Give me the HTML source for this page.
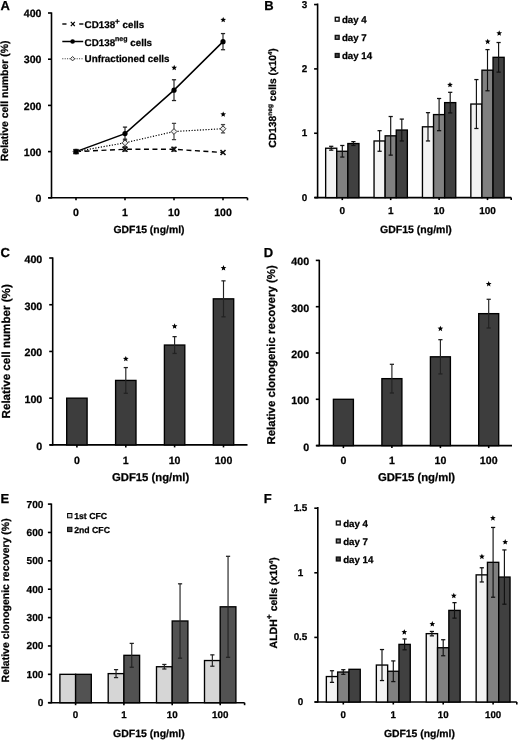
<!DOCTYPE html>
<html><head><meta charset="utf-8"><style>
html,body{margin:0;padding:0;background:#fff;}
svg{display:block;font-family:"Liberation Sans", sans-serif;filter:grayscale(1);}
text{text-rendering:geometricPrecision;stroke:#000;stroke-width:0.25px;}
</style></head><body>
<svg width="520" height="741" viewBox="0 0 520 741">
<rect width="520" height="741" fill="#fff"/>
<text x="0.60" y="10.20" font-size="13" text-anchor="start" font-weight="bold" fill="#000">A</text>
<line x1="51.50" y1="12.40" x2="51.50" y2="198.40" stroke="#000" stroke-width="1.6" stroke-linecap="butt"/>
<line x1="48.00" y1="197.80" x2="51.50" y2="197.80" stroke="#000" stroke-width="1.6" stroke-linecap="butt"/>
<text x="41.50" y="202.00" font-size="10.6" text-anchor="end" font-weight="bold" fill="#000">0</text>
<line x1="48.00" y1="151.60" x2="51.50" y2="151.60" stroke="#000" stroke-width="1.6" stroke-linecap="butt"/>
<text x="41.50" y="155.80" font-size="10.6" text-anchor="end" font-weight="bold" fill="#000">100</text>
<line x1="48.00" y1="105.40" x2="51.50" y2="105.40" stroke="#000" stroke-width="1.6" stroke-linecap="butt"/>
<text x="41.50" y="109.60" font-size="10.6" text-anchor="end" font-weight="bold" fill="#000">200</text>
<line x1="48.00" y1="59.20" x2="51.50" y2="59.20" stroke="#000" stroke-width="1.6" stroke-linecap="butt"/>
<text x="41.50" y="63.40" font-size="10.6" text-anchor="end" font-weight="bold" fill="#000">300</text>
<line x1="48.00" y1="13.00" x2="51.50" y2="13.00" stroke="#000" stroke-width="1.6" stroke-linecap="butt"/>
<text x="41.50" y="17.20" font-size="10.6" text-anchor="end" font-weight="bold" fill="#000">400</text>
<line x1="48.50" y1="197.80" x2="247.50" y2="197.80" stroke="#000" stroke-width="1.6" stroke-linecap="butt"/>
<line x1="76.00" y1="197.80" x2="76.00" y2="200.30" stroke="#000" stroke-width="1.6" stroke-linecap="butt"/>
<text x="76.00" y="216.40" font-size="10.6" text-anchor="middle" font-weight="bold" fill="#000">0</text>
<line x1="125.00" y1="197.80" x2="125.00" y2="200.30" stroke="#000" stroke-width="1.6" stroke-linecap="butt"/>
<text x="125.00" y="216.40" font-size="10.6" text-anchor="middle" font-weight="bold" fill="#000">1</text>
<line x1="174.00" y1="197.80" x2="174.00" y2="200.30" stroke="#000" stroke-width="1.6" stroke-linecap="butt"/>
<text x="174.00" y="216.40" font-size="10.6" text-anchor="middle" font-weight="bold" fill="#000">10</text>
<line x1="223.00" y1="197.80" x2="223.00" y2="200.30" stroke="#000" stroke-width="1.6" stroke-linecap="butt"/>
<text x="223.00" y="216.40" font-size="10.6" text-anchor="middle" font-weight="bold" fill="#000">100</text>
<line x1="247.50" y1="197.80" x2="247.50" y2="200.30" stroke="#000" stroke-width="1.6" stroke-linecap="butt"/>
<text x="149.00" y="233.20" font-size="10.4" text-anchor="middle" font-weight="bold" fill="#000">GDF15 (ng/ml)</text>
<text transform="translate(8.40,100.85) rotate(-90)" font-size="10.44" text-anchor="middle" font-weight="bold" fill="#000">Relative cell number (%)</text>
<line x1="125.00" y1="139.13" x2="125.00" y2="146.52" stroke="#444" stroke-width="1.15" stroke-linecap="butt"/>
<line x1="122.90" y1="139.13" x2="127.10" y2="139.13" stroke="#444" stroke-width="1.265" stroke-linecap="butt"/>
<line x1="122.90" y1="146.52" x2="127.10" y2="146.52" stroke="#444" stroke-width="1.265" stroke-linecap="butt"/>
<line x1="125.00" y1="147.44" x2="125.00" y2="151.14" stroke="#444" stroke-width="1.15" stroke-linecap="butt"/>
<line x1="122.90" y1="147.44" x2="127.10" y2="147.44" stroke="#444" stroke-width="1.265" stroke-linecap="butt"/>
<line x1="122.90" y1="151.14" x2="127.10" y2="151.14" stroke="#444" stroke-width="1.265" stroke-linecap="butt"/>
<line x1="125.00" y1="127.11" x2="125.00" y2="140.05" stroke="#222" stroke-width="1.15" stroke-linecap="butt"/>
<line x1="122.90" y1="127.11" x2="127.10" y2="127.11" stroke="#222" stroke-width="1.265" stroke-linecap="butt"/>
<line x1="122.90" y1="140.05" x2="127.10" y2="140.05" stroke="#222" stroke-width="1.265" stroke-linecap="butt"/>
<line x1="174.00" y1="123.37" x2="174.00" y2="139.63" stroke="#444" stroke-width="1.15" stroke-linecap="butt"/>
<line x1="171.90" y1="123.37" x2="176.10" y2="123.37" stroke="#444" stroke-width="1.265" stroke-linecap="butt"/>
<line x1="171.90" y1="139.63" x2="176.10" y2="139.63" stroke="#444" stroke-width="1.265" stroke-linecap="butt"/>
<line x1="174.00" y1="147.44" x2="174.00" y2="151.14" stroke="#444" stroke-width="1.15" stroke-linecap="butt"/>
<line x1="171.90" y1="147.44" x2="176.10" y2="147.44" stroke="#444" stroke-width="1.265" stroke-linecap="butt"/>
<line x1="171.90" y1="151.14" x2="176.10" y2="151.14" stroke="#444" stroke-width="1.265" stroke-linecap="butt"/>
<line x1="174.00" y1="79.76" x2="174.00" y2="100.55" stroke="#222" stroke-width="1.15" stroke-linecap="butt"/>
<line x1="171.90" y1="79.76" x2="176.10" y2="79.76" stroke="#222" stroke-width="1.265" stroke-linecap="butt"/>
<line x1="171.90" y1="100.55" x2="176.10" y2="100.55" stroke="#222" stroke-width="1.265" stroke-linecap="butt"/>
<line x1="223.00" y1="124.57" x2="223.00" y2="132.89" stroke="#444" stroke-width="1.15" stroke-linecap="butt"/>
<line x1="220.90" y1="124.57" x2="225.10" y2="124.57" stroke="#444" stroke-width="1.265" stroke-linecap="butt"/>
<line x1="220.90" y1="132.89" x2="225.10" y2="132.89" stroke="#444" stroke-width="1.265" stroke-linecap="butt"/>
<line x1="223.00" y1="33.56" x2="223.00" y2="49.73" stroke="#222" stroke-width="1.15" stroke-linecap="butt"/>
<line x1="220.90" y1="33.56" x2="225.10" y2="33.56" stroke="#222" stroke-width="1.265" stroke-linecap="butt"/>
<line x1="220.90" y1="49.73" x2="225.10" y2="49.73" stroke="#222" stroke-width="1.265" stroke-linecap="butt"/>
<polyline points="76.00,151.60 125.00,149.29 174.00,149.29 223.00,152.52" fill="none" stroke="#000" stroke-width="1.4" stroke-dasharray="5,3.5"/>
<polyline points="76.00,151.60 125.00,142.82 174.00,131.50 223.00,128.73" fill="none" stroke="#000" stroke-width="1.2" stroke-dasharray="1.2,1.6"/>
<polyline points="76.00,151.60 125.00,133.58 174.00,90.15 223.00,41.64" fill="none" stroke="#000" stroke-width="1.5"/>
<line x1="73.50" y1="149.10" x2="78.50" y2="154.10" stroke="#111" stroke-width="1.6" stroke-linecap="butt"/>
<line x1="73.50" y1="154.10" x2="78.50" y2="149.10" stroke="#111" stroke-width="1.6" stroke-linecap="butt"/>
<path d="M73.10,151.60 L76.00,148.70 L78.90,151.60 L76.00,154.50 Z" fill="#eee" stroke="#333" stroke-width="1"/>
<circle cx="76.00" cy="151.60" r="2.6" fill="#000"/>
<line x1="122.50" y1="146.79" x2="127.50" y2="151.79" stroke="#111" stroke-width="1.6" stroke-linecap="butt"/>
<line x1="122.50" y1="151.79" x2="127.50" y2="146.79" stroke="#111" stroke-width="1.6" stroke-linecap="butt"/>
<path d="M122.10,142.82 L125.00,139.92 L127.90,142.82 L125.00,145.72 Z" fill="#eee" stroke="#333" stroke-width="1"/>
<circle cx="125.00" cy="133.58" r="2.6" fill="#000"/>
<line x1="171.50" y1="146.79" x2="176.50" y2="151.79" stroke="#111" stroke-width="1.6" stroke-linecap="butt"/>
<line x1="171.50" y1="151.79" x2="176.50" y2="146.79" stroke="#111" stroke-width="1.6" stroke-linecap="butt"/>
<path d="M171.10,131.50 L174.00,128.60 L176.90,131.50 L174.00,134.40 Z" fill="#eee" stroke="#333" stroke-width="1"/>
<circle cx="174.00" cy="90.15" r="2.6" fill="#000"/>
<line x1="220.50" y1="150.02" x2="225.50" y2="155.02" stroke="#111" stroke-width="1.6" stroke-linecap="butt"/>
<line x1="220.50" y1="155.02" x2="225.50" y2="150.02" stroke="#111" stroke-width="1.6" stroke-linecap="butt"/>
<path d="M220.10,128.73 L223.00,125.83 L225.90,128.73 L223.00,131.63 Z" fill="#eee" stroke="#333" stroke-width="1"/>
<circle cx="223.00" cy="41.64" r="2.6" fill="#000"/>
<polygon points="174.20,64.80 174.99,66.71 177.05,66.87 175.48,68.22 175.96,70.23 174.20,69.15 172.44,70.23 172.92,68.22 171.35,66.87 173.41,66.71" fill="#000"/>
<polygon points="223.20,16.90 223.99,18.81 226.05,18.97 224.48,20.32 224.96,22.33 223.20,21.25 221.44,22.33 221.92,20.32 220.35,18.97 222.41,18.81" fill="#000"/>
<polygon points="223.20,111.40 223.99,113.31 226.05,113.47 224.48,114.82 224.96,116.83 223.20,115.75 221.44,116.83 221.92,114.82 220.35,113.47 222.41,113.31" fill="#000"/>
<line x1="62.30" y1="24.00" x2="66.50" y2="24.00" stroke="#000" stroke-width="1.4" stroke-linecap="butt"/>
<line x1="79.20" y1="24.00" x2="83.40" y2="24.00" stroke="#000" stroke-width="1.4" stroke-linecap="butt"/>
<line x1="70.80" y1="21.80" x2="74.80" y2="26.20" stroke="#000" stroke-width="1.2" stroke-linecap="butt"/>
<line x1="70.80" y1="26.20" x2="74.80" y2="21.80" stroke="#000" stroke-width="1.2" stroke-linecap="butt"/>
<text x="84.60" y="27.50" font-size="9.8" text-anchor="start" font-weight="bold" fill="#000">CD138<tspan font-size="8" dy="-3.6">+</tspan><tspan dy="3.6"> cells</tspan></text>
<line x1="62.30" y1="41.50" x2="83.20" y2="41.50" stroke="#000" stroke-width="1.5" stroke-linecap="butt"/>
<circle cx="72.6" cy="41.5" r="2.3" fill="#000"/>
<text x="84.60" y="45.50" font-size="9.8" text-anchor="start" font-weight="bold" fill="#000">CD138<tspan font-size="7" dy="-4.5">neg</tspan><tspan dy="4.5"> cells</tspan></text>
<line x1="62.30" y1="58.70" x2="83.20" y2="58.70" stroke="#333" stroke-width="1.1" stroke-dasharray="1,1.4" stroke-linecap="butt"/>
<path d="M70.4,58.7 L72.6,56.5 L74.8,58.7 L72.6,60.9 Z" fill="#eee" stroke="#333" stroke-width="1"/>
<text x="84.60" y="62.20" font-size="9.8" text-anchor="start" font-weight="bold" fill="#000">Unfractioned cells</text>
<text x="264.20" y="10.30" font-size="13" text-anchor="start" font-weight="bold" fill="#000">B</text>
<line x1="317.60" y1="3.50" x2="317.60" y2="198.20" stroke="#000" stroke-width="1.6" stroke-linecap="butt"/>
<line x1="314.10" y1="197.60" x2="317.60" y2="197.60" stroke="#000" stroke-width="1.6" stroke-linecap="butt"/>
<text x="307.30" y="200.80" font-size="9.9" text-anchor="end" font-weight="bold" fill="#000">0</text>
<line x1="314.10" y1="133.25" x2="317.60" y2="133.25" stroke="#000" stroke-width="1.6" stroke-linecap="butt"/>
<text x="307.30" y="136.45" font-size="9.9" text-anchor="end" font-weight="bold" fill="#000">1</text>
<line x1="314.10" y1="68.90" x2="317.60" y2="68.90" stroke="#000" stroke-width="1.6" stroke-linecap="butt"/>
<text x="307.30" y="72.10" font-size="9.9" text-anchor="end" font-weight="bold" fill="#000">2</text>
<line x1="314.10" y1="4.55" x2="317.60" y2="4.55" stroke="#000" stroke-width="1.6" stroke-linecap="butt"/>
<text x="307.30" y="7.75" font-size="9.9" text-anchor="end" font-weight="bold" fill="#000">3</text>
<line x1="314.60" y1="197.60" x2="511.20" y2="197.60" stroke="#000" stroke-width="1.6" stroke-linecap="butt"/>
<line x1="342.30" y1="197.60" x2="342.30" y2="200.10" stroke="#000" stroke-width="1.6" stroke-linecap="butt"/>
<text x="342.30" y="213.80" font-size="10.0" text-anchor="middle" font-weight="bold" fill="#000">0</text>
<line x1="390.70" y1="197.60" x2="390.70" y2="200.10" stroke="#000" stroke-width="1.6" stroke-linecap="butt"/>
<text x="390.70" y="213.80" font-size="10.0" text-anchor="middle" font-weight="bold" fill="#000">1</text>
<line x1="439.10" y1="197.60" x2="439.10" y2="200.10" stroke="#000" stroke-width="1.6" stroke-linecap="butt"/>
<text x="439.10" y="213.80" font-size="10.0" text-anchor="middle" font-weight="bold" fill="#000">10</text>
<line x1="487.50" y1="197.60" x2="487.50" y2="200.10" stroke="#000" stroke-width="1.6" stroke-linecap="butt"/>
<text x="487.50" y="213.80" font-size="10.0" text-anchor="middle" font-weight="bold" fill="#000">100</text>
<line x1="511.20" y1="197.60" x2="511.20" y2="200.10" stroke="#000" stroke-width="1.6" stroke-linecap="butt"/>
<text x="416.00" y="233.20" font-size="10.5" text-anchor="middle" font-weight="bold" fill="#000">GDF15 (ng/ml)</text>
<text transform="translate(275.60,98.00) rotate(-90)" font-size="10.3" text-anchor="middle" font-weight="bold" fill="#000">CD138<tspan font-size="6.5" dy="-3.5">neg</tspan><tspan dy="3.5"> cells (x10</tspan><tspan font-size="5.8" dy="-3.8">4</tspan><tspan dy="3.8">)</tspan></text>
<rect x="325.65" y="148.24" width="11.10" height="49.36" fill="#f3f3f3" stroke="#000" stroke-width="1.35"/>
<rect x="336.75" y="151.27" width="11.10" height="46.33" fill="#808080" stroke="#000" stroke-width="1.35"/>
<rect x="347.85" y="143.55" width="11.10" height="54.05" fill="#404040" stroke="#000" stroke-width="1.35"/>
<line x1="331.20" y1="146.31" x2="331.20" y2="150.17" stroke="#111" stroke-width="1.15" stroke-linecap="butt"/>
<line x1="329.10" y1="146.31" x2="333.30" y2="146.31" stroke="#111" stroke-width="1.265" stroke-linecap="butt"/>
<line x1="329.10" y1="150.17" x2="333.30" y2="150.17" stroke="#111" stroke-width="1.265" stroke-linecap="butt"/>
<line x1="342.30" y1="145.48" x2="342.30" y2="157.06" stroke="#111" stroke-width="1.15" stroke-linecap="butt"/>
<line x1="340.20" y1="145.48" x2="344.40" y2="145.48" stroke="#111" stroke-width="1.265" stroke-linecap="butt"/>
<line x1="340.20" y1="157.06" x2="344.40" y2="157.06" stroke="#111" stroke-width="1.265" stroke-linecap="butt"/>
<line x1="353.40" y1="141.62" x2="353.40" y2="145.48" stroke="#111" stroke-width="1.15" stroke-linecap="butt"/>
<line x1="351.30" y1="141.62" x2="355.50" y2="141.62" stroke="#111" stroke-width="1.265" stroke-linecap="butt"/>
<line x1="351.30" y1="145.48" x2="355.50" y2="145.48" stroke="#111" stroke-width="1.265" stroke-linecap="butt"/>
<rect x="374.05" y="140.97" width="11.10" height="56.63" fill="#f3f3f3" stroke="#000" stroke-width="1.35"/>
<rect x="385.15" y="135.82" width="11.10" height="61.78" fill="#808080" stroke="#000" stroke-width="1.35"/>
<rect x="396.25" y="130.03" width="11.10" height="67.57" fill="#404040" stroke="#000" stroke-width="1.35"/>
<line x1="379.60" y1="130.68" x2="379.60" y2="151.27" stroke="#111" stroke-width="1.15" stroke-linecap="butt"/>
<line x1="377.50" y1="130.68" x2="381.70" y2="130.68" stroke="#111" stroke-width="1.265" stroke-linecap="butt"/>
<line x1="377.50" y1="151.27" x2="381.70" y2="151.27" stroke="#111" stroke-width="1.265" stroke-linecap="butt"/>
<line x1="390.70" y1="116.52" x2="390.70" y2="155.13" stroke="#111" stroke-width="1.15" stroke-linecap="butt"/>
<line x1="388.60" y1="116.52" x2="392.80" y2="116.52" stroke="#111" stroke-width="1.265" stroke-linecap="butt"/>
<line x1="388.60" y1="155.13" x2="392.80" y2="155.13" stroke="#111" stroke-width="1.265" stroke-linecap="butt"/>
<line x1="401.80" y1="119.09" x2="401.80" y2="140.97" stroke="#111" stroke-width="1.15" stroke-linecap="butt"/>
<line x1="399.70" y1="119.09" x2="403.90" y2="119.09" stroke="#111" stroke-width="1.265" stroke-linecap="butt"/>
<line x1="399.70" y1="140.97" x2="403.90" y2="140.97" stroke="#111" stroke-width="1.265" stroke-linecap="butt"/>
<rect x="422.45" y="126.81" width="11.10" height="70.78" fill="#f3f3f3" stroke="#000" stroke-width="1.35"/>
<rect x="433.55" y="114.59" width="11.10" height="83.01" fill="#808080" stroke="#000" stroke-width="1.35"/>
<rect x="444.65" y="102.62" width="11.10" height="94.98" fill="#404040" stroke="#000" stroke-width="1.35"/>
<line x1="428.00" y1="112.66" x2="428.00" y2="140.97" stroke="#111" stroke-width="1.15" stroke-linecap="butt"/>
<line x1="425.90" y1="112.66" x2="430.10" y2="112.66" stroke="#111" stroke-width="1.265" stroke-linecap="butt"/>
<line x1="425.90" y1="140.97" x2="430.10" y2="140.97" stroke="#111" stroke-width="1.265" stroke-linecap="butt"/>
<line x1="439.10" y1="98.50" x2="439.10" y2="130.68" stroke="#111" stroke-width="1.15" stroke-linecap="butt"/>
<line x1="437.00" y1="98.50" x2="441.20" y2="98.50" stroke="#111" stroke-width="1.265" stroke-linecap="butt"/>
<line x1="437.00" y1="130.68" x2="441.20" y2="130.68" stroke="#111" stroke-width="1.265" stroke-linecap="butt"/>
<line x1="450.20" y1="92.32" x2="450.20" y2="112.92" stroke="#111" stroke-width="1.15" stroke-linecap="butt"/>
<line x1="448.10" y1="92.32" x2="452.30" y2="92.32" stroke="#111" stroke-width="1.265" stroke-linecap="butt"/>
<line x1="448.10" y1="112.92" x2="452.30" y2="112.92" stroke="#111" stroke-width="1.265" stroke-linecap="butt"/>
<rect x="470.85" y="104.04" width="11.10" height="93.56" fill="#f3f3f3" stroke="#000" stroke-width="1.35"/>
<rect x="481.95" y="70.19" width="11.10" height="127.41" fill="#808080" stroke="#000" stroke-width="1.35"/>
<rect x="493.05" y="57.32" width="11.10" height="140.28" fill="#404040" stroke="#000" stroke-width="1.35"/>
<line x1="476.40" y1="79.58" x2="476.40" y2="128.49" stroke="#111" stroke-width="1.15" stroke-linecap="butt"/>
<line x1="474.30" y1="79.58" x2="478.50" y2="79.58" stroke="#111" stroke-width="1.265" stroke-linecap="butt"/>
<line x1="474.30" y1="128.49" x2="478.50" y2="128.49" stroke="#111" stroke-width="1.265" stroke-linecap="butt"/>
<line x1="487.50" y1="49.60" x2="487.50" y2="90.78" stroke="#111" stroke-width="1.15" stroke-linecap="butt"/>
<line x1="485.40" y1="49.60" x2="489.60" y2="49.60" stroke="#111" stroke-width="1.265" stroke-linecap="butt"/>
<line x1="485.40" y1="90.78" x2="489.60" y2="90.78" stroke="#111" stroke-width="1.265" stroke-linecap="butt"/>
<line x1="498.60" y1="42.52" x2="498.60" y2="72.12" stroke="#111" stroke-width="1.15" stroke-linecap="butt"/>
<line x1="496.50" y1="42.52" x2="500.70" y2="42.52" stroke="#111" stroke-width="1.265" stroke-linecap="butt"/>
<line x1="496.50" y1="72.12" x2="500.70" y2="72.12" stroke="#111" stroke-width="1.265" stroke-linecap="butt"/>
<polygon points="450.00,81.90 450.79,83.81 452.85,83.97 451.28,85.32 451.76,87.33 450.00,86.25 448.24,87.33 448.72,85.32 447.15,83.97 449.21,83.81" fill="#000"/>
<polygon points="487.70,38.70 488.49,40.61 490.55,40.77 488.98,42.12 489.46,44.13 487.70,43.05 485.94,44.13 486.42,42.12 484.85,40.77 486.91,40.61" fill="#000"/>
<polygon points="499.20,30.30 499.99,32.21 502.05,32.37 500.48,33.72 500.96,35.73 499.20,34.65 497.44,35.73 497.92,33.72 496.35,32.37 498.41,32.21" fill="#000"/>
<rect x="335.30" y="17.35" width="3.80" height="3.80" fill="#f3f3f3" stroke="#111" stroke-width="1.4"/>
<text x="341.90" y="23.00" font-size="9.7" text-anchor="start" font-weight="bold" fill="#000">day 4</text>
<rect x="335.30" y="35.45" width="3.80" height="3.80" fill="#808080" stroke="#111" stroke-width="1.4"/>
<text x="341.90" y="41.10" font-size="9.7" text-anchor="start" font-weight="bold" fill="#000">day 7</text>
<rect x="335.30" y="53.55" width="3.80" height="3.80" fill="#404040" stroke="#111" stroke-width="1.4"/>
<text x="341.90" y="59.20" font-size="9.7" text-anchor="start" font-weight="bold" fill="#000">day 14</text>
<text x="0.40" y="257.30" font-size="13" text-anchor="start" font-weight="bold" fill="#000">C</text>
<line x1="52.70" y1="257.40" x2="52.70" y2="445.50" stroke="#000" stroke-width="1.6" stroke-linecap="butt"/>
<line x1="49.20" y1="444.90" x2="52.70" y2="444.90" stroke="#000" stroke-width="1.6" stroke-linecap="butt"/>
<text x="42.30" y="449.90" font-size="10.7" text-anchor="end" font-weight="bold" fill="#000">0</text>
<line x1="49.20" y1="398.17" x2="52.70" y2="398.17" stroke="#000" stroke-width="1.6" stroke-linecap="butt"/>
<text x="42.30" y="403.17" font-size="10.7" text-anchor="end" font-weight="bold" fill="#000">100</text>
<line x1="49.20" y1="351.45" x2="52.70" y2="351.45" stroke="#000" stroke-width="1.6" stroke-linecap="butt"/>
<text x="42.30" y="356.45" font-size="10.7" text-anchor="end" font-weight="bold" fill="#000">200</text>
<line x1="49.20" y1="304.73" x2="52.70" y2="304.73" stroke="#000" stroke-width="1.6" stroke-linecap="butt"/>
<text x="42.30" y="309.73" font-size="10.7" text-anchor="end" font-weight="bold" fill="#000">300</text>
<line x1="49.20" y1="258.00" x2="52.70" y2="258.00" stroke="#000" stroke-width="1.6" stroke-linecap="butt"/>
<text x="42.30" y="263.00" font-size="10.7" text-anchor="end" font-weight="bold" fill="#000">400</text>
<line x1="49.70" y1="444.90" x2="247.50" y2="444.90" stroke="#000" stroke-width="1.6" stroke-linecap="butt"/>
<line x1="76.90" y1="444.90" x2="76.90" y2="447.40" stroke="#000" stroke-width="1.6" stroke-linecap="butt"/>
<text x="76.90" y="463.80" font-size="10.6" text-anchor="middle" font-weight="bold" fill="#000">0</text>
<line x1="125.80" y1="444.90" x2="125.80" y2="447.40" stroke="#000" stroke-width="1.6" stroke-linecap="butt"/>
<text x="125.80" y="463.80" font-size="10.6" text-anchor="middle" font-weight="bold" fill="#000">1</text>
<line x1="174.60" y1="444.90" x2="174.60" y2="447.40" stroke="#000" stroke-width="1.6" stroke-linecap="butt"/>
<text x="174.60" y="463.80" font-size="10.6" text-anchor="middle" font-weight="bold" fill="#000">10</text>
<line x1="223.50" y1="444.90" x2="223.50" y2="447.40" stroke="#000" stroke-width="1.6" stroke-linecap="butt"/>
<text x="223.50" y="463.80" font-size="10.6" text-anchor="middle" font-weight="bold" fill="#000">100</text>
<text x="150.60" y="480.80" font-size="11.3" text-anchor="middle" font-weight="bold" fill="#000">GDF15 (ng/ml)</text>
<text transform="translate(10.00,351.35) rotate(-90)" font-size="11.62" text-anchor="middle" font-weight="bold" fill="#000">Relative cell number (%)</text>
<rect x="66.70" y="398.17" width="20.40" height="46.73" fill="#3d3d3d" stroke="#000" stroke-width="1.35"/>
<rect x="115.60" y="380.42" width="20.40" height="64.48" fill="#3d3d3d" stroke="#000" stroke-width="1.35"/>
<line x1="125.80" y1="367.57" x2="125.80" y2="393.27" stroke="#222" stroke-width="1.15" stroke-linecap="butt"/>
<line x1="123.70" y1="367.57" x2="127.90" y2="367.57" stroke="#222" stroke-width="1.265" stroke-linecap="butt"/>
<line x1="123.70" y1="393.27" x2="127.90" y2="393.27" stroke="#222" stroke-width="1.265" stroke-linecap="butt"/>
<rect x="164.40" y="345.05" width="20.40" height="99.85" fill="#3d3d3d" stroke="#000" stroke-width="1.35"/>
<line x1="174.60" y1="336.64" x2="174.60" y2="353.46" stroke="#222" stroke-width="1.15" stroke-linecap="butt"/>
<line x1="172.50" y1="336.64" x2="176.70" y2="336.64" stroke="#222" stroke-width="1.265" stroke-linecap="butt"/>
<line x1="172.50" y1="353.46" x2="176.70" y2="353.46" stroke="#222" stroke-width="1.265" stroke-linecap="butt"/>
<rect x="213.30" y="298.84" width="20.40" height="146.06" fill="#3d3d3d" stroke="#000" stroke-width="1.35"/>
<line x1="223.50" y1="280.85" x2="223.50" y2="316.83" stroke="#222" stroke-width="1.15" stroke-linecap="butt"/>
<line x1="221.40" y1="280.85" x2="225.60" y2="280.85" stroke="#222" stroke-width="1.265" stroke-linecap="butt"/>
<line x1="221.40" y1="316.83" x2="225.60" y2="316.83" stroke="#222" stroke-width="1.265" stroke-linecap="butt"/>
<polygon points="125.80,355.90 126.59,357.81 128.65,357.97 127.08,359.32 127.56,361.33 125.80,360.25 124.04,361.33 124.52,359.32 122.95,357.97 125.01,357.81" fill="#000"/>
<polygon points="174.60,323.30 175.39,325.21 177.45,325.37 175.88,326.72 176.36,328.73 174.60,327.65 172.84,328.73 173.32,326.72 171.75,325.37 173.81,325.21" fill="#000"/>
<polygon points="223.50,265.10 224.29,267.01 226.35,267.17 224.78,268.52 225.26,270.53 223.50,269.45 221.74,270.53 222.22,268.52 220.65,267.17 222.71,267.01" fill="#000"/>
<text x="263.80" y="257.30" font-size="13" text-anchor="start" font-weight="bold" fill="#000">D</text>
<line x1="319.30" y1="259.80" x2="319.30" y2="446.20" stroke="#000" stroke-width="1.6" stroke-linecap="butt"/>
<line x1="315.80" y1="445.60" x2="319.30" y2="445.60" stroke="#000" stroke-width="1.6" stroke-linecap="butt"/>
<text x="309.20" y="450.60" font-size="10.7" text-anchor="end" font-weight="bold" fill="#000">0</text>
<line x1="315.80" y1="399.30" x2="319.30" y2="399.30" stroke="#000" stroke-width="1.6" stroke-linecap="butt"/>
<text x="309.20" y="404.30" font-size="10.7" text-anchor="end" font-weight="bold" fill="#000">100</text>
<line x1="315.80" y1="353.00" x2="319.30" y2="353.00" stroke="#000" stroke-width="1.6" stroke-linecap="butt"/>
<text x="309.20" y="358.00" font-size="10.7" text-anchor="end" font-weight="bold" fill="#000">200</text>
<line x1="315.80" y1="306.70" x2="319.30" y2="306.70" stroke="#000" stroke-width="1.6" stroke-linecap="butt"/>
<text x="309.20" y="311.70" font-size="10.7" text-anchor="end" font-weight="bold" fill="#000">300</text>
<line x1="315.80" y1="260.40" x2="319.30" y2="260.40" stroke="#000" stroke-width="1.6" stroke-linecap="butt"/>
<text x="309.20" y="265.40" font-size="10.7" text-anchor="end" font-weight="bold" fill="#000">400</text>
<line x1="316.30" y1="445.60" x2="512.00" y2="445.60" stroke="#000" stroke-width="1.6" stroke-linecap="butt"/>
<line x1="343.40" y1="445.60" x2="343.40" y2="448.10" stroke="#000" stroke-width="1.6" stroke-linecap="butt"/>
<text x="343.40" y="464.40" font-size="10.6" text-anchor="middle" font-weight="bold" fill="#000">0</text>
<line x1="391.90" y1="445.60" x2="391.90" y2="448.10" stroke="#000" stroke-width="1.6" stroke-linecap="butt"/>
<text x="391.90" y="464.40" font-size="10.6" text-anchor="middle" font-weight="bold" fill="#000">1</text>
<line x1="440.40" y1="445.60" x2="440.40" y2="448.10" stroke="#000" stroke-width="1.6" stroke-linecap="butt"/>
<text x="440.40" y="464.40" font-size="10.6" text-anchor="middle" font-weight="bold" fill="#000">10</text>
<line x1="488.70" y1="445.60" x2="488.70" y2="448.10" stroke="#000" stroke-width="1.6" stroke-linecap="butt"/>
<text x="488.70" y="464.40" font-size="10.6" text-anchor="middle" font-weight="bold" fill="#000">100</text>
<text x="416.50" y="481.20" font-size="11.3" text-anchor="middle" font-weight="bold" fill="#000">GDF15 (ng/ml)</text>
<text transform="translate(274.90,354.90) rotate(-90)" font-size="11.45" text-anchor="middle" font-weight="bold" fill="#000">Relative clonogenic recovery (%)</text>
<rect x="333.40" y="399.30" width="20.00" height="46.30" fill="#3d3d3d" stroke="#000" stroke-width="1.35"/>
<rect x="381.90" y="378.65" width="20.00" height="66.95" fill="#3d3d3d" stroke="#000" stroke-width="1.35"/>
<line x1="391.90" y1="364.30" x2="391.90" y2="393.00" stroke="#222" stroke-width="1.15" stroke-linecap="butt"/>
<line x1="389.80" y1="364.30" x2="394.00" y2="364.30" stroke="#222" stroke-width="1.265" stroke-linecap="butt"/>
<line x1="389.80" y1="393.00" x2="394.00" y2="393.00" stroke="#222" stroke-width="1.265" stroke-linecap="butt"/>
<rect x="430.40" y="356.80" width="20.00" height="88.80" fill="#3d3d3d" stroke="#000" stroke-width="1.35"/>
<line x1="440.40" y1="339.67" x2="440.40" y2="373.93" stroke="#222" stroke-width="1.15" stroke-linecap="butt"/>
<line x1="438.30" y1="339.67" x2="442.50" y2="339.67" stroke="#222" stroke-width="1.265" stroke-linecap="butt"/>
<line x1="438.30" y1="373.93" x2="442.50" y2="373.93" stroke="#222" stroke-width="1.265" stroke-linecap="butt"/>
<rect x="478.70" y="313.64" width="20.00" height="131.96" fill="#3d3d3d" stroke="#000" stroke-width="1.35"/>
<line x1="488.70" y1="299.29" x2="488.70" y2="328.00" stroke="#222" stroke-width="1.15" stroke-linecap="butt"/>
<line x1="486.60" y1="299.29" x2="490.80" y2="299.29" stroke="#222" stroke-width="1.265" stroke-linecap="butt"/>
<line x1="486.60" y1="328.00" x2="490.80" y2="328.00" stroke="#222" stroke-width="1.265" stroke-linecap="butt"/>
<polygon points="440.40,325.70 441.19,327.61 443.25,327.77 441.68,329.12 442.16,331.13 440.40,330.05 438.64,331.13 439.12,329.12 437.55,327.77 439.61,327.61" fill="#000"/>
<polygon points="488.70,281.00 489.49,282.91 491.55,283.07 489.98,284.42 490.46,286.43 488.70,285.35 486.94,286.43 487.42,284.42 485.85,283.07 487.91,282.91" fill="#000"/>
<text x="0.40" y="502.80" font-size="13" text-anchor="start" font-weight="bold" fill="#000">E</text>
<line x1="51.40" y1="503.50" x2="51.40" y2="703.30" stroke="#000" stroke-width="1.6" stroke-linecap="butt"/>
<line x1="47.90" y1="702.70" x2="51.40" y2="702.70" stroke="#000" stroke-width="1.6" stroke-linecap="butt"/>
<text x="43.40" y="706.10" font-size="10.1" text-anchor="end" font-weight="bold" fill="#000">0</text>
<line x1="47.90" y1="674.33" x2="51.40" y2="674.33" stroke="#000" stroke-width="1.6" stroke-linecap="butt"/>
<text x="43.40" y="677.73" font-size="10.1" text-anchor="end" font-weight="bold" fill="#000">100</text>
<line x1="47.90" y1="645.96" x2="51.40" y2="645.96" stroke="#000" stroke-width="1.6" stroke-linecap="butt"/>
<text x="43.40" y="649.36" font-size="10.1" text-anchor="end" font-weight="bold" fill="#000">200</text>
<line x1="47.90" y1="617.59" x2="51.40" y2="617.59" stroke="#000" stroke-width="1.6" stroke-linecap="butt"/>
<text x="43.40" y="620.99" font-size="10.1" text-anchor="end" font-weight="bold" fill="#000">300</text>
<line x1="47.90" y1="589.21" x2="51.40" y2="589.21" stroke="#000" stroke-width="1.6" stroke-linecap="butt"/>
<text x="43.40" y="592.61" font-size="10.1" text-anchor="end" font-weight="bold" fill="#000">400</text>
<line x1="47.90" y1="560.84" x2="51.40" y2="560.84" stroke="#000" stroke-width="1.6" stroke-linecap="butt"/>
<text x="43.40" y="564.24" font-size="10.1" text-anchor="end" font-weight="bold" fill="#000">500</text>
<line x1="47.90" y1="532.47" x2="51.40" y2="532.47" stroke="#000" stroke-width="1.6" stroke-linecap="butt"/>
<text x="43.40" y="535.87" font-size="10.1" text-anchor="end" font-weight="bold" fill="#000">600</text>
<line x1="47.90" y1="504.10" x2="51.40" y2="504.10" stroke="#000" stroke-width="1.6" stroke-linecap="butt"/>
<text x="43.40" y="507.50" font-size="10.1" text-anchor="end" font-weight="bold" fill="#000">700</text>
<line x1="48.40" y1="702.70" x2="244.60" y2="702.70" stroke="#000" stroke-width="1.6" stroke-linecap="butt"/>
<line x1="75.60" y1="702.70" x2="75.60" y2="705.20" stroke="#000" stroke-width="1.6" stroke-linecap="butt"/>
<text x="75.60" y="718.10" font-size="9.8" text-anchor="middle" font-weight="bold" fill="#000">0</text>
<line x1="123.90" y1="702.70" x2="123.90" y2="705.20" stroke="#000" stroke-width="1.6" stroke-linecap="butt"/>
<text x="123.90" y="718.10" font-size="9.8" text-anchor="middle" font-weight="bold" fill="#000">1</text>
<line x1="172.20" y1="702.70" x2="172.20" y2="705.20" stroke="#000" stroke-width="1.6" stroke-linecap="butt"/>
<text x="172.20" y="718.10" font-size="9.8" text-anchor="middle" font-weight="bold" fill="#000">10</text>
<line x1="220.20" y1="702.70" x2="220.20" y2="705.20" stroke="#000" stroke-width="1.6" stroke-linecap="butt"/>
<text x="220.20" y="718.10" font-size="9.8" text-anchor="middle" font-weight="bold" fill="#000">100</text>
<line x1="244.60" y1="702.70" x2="244.60" y2="705.20" stroke="#000" stroke-width="1.6" stroke-linecap="butt"/>
<text x="148.90" y="736.50" font-size="10.5" text-anchor="middle" font-weight="bold" fill="#000">GDF15 (ng/ml)</text>
<text transform="translate(8.80,600.40) rotate(-90)" font-size="10.48" text-anchor="middle" font-weight="bold" fill="#000">Relative clonogenic recovery (%)</text>
<rect x="59.90" y="674.33" width="15.70" height="28.37" fill="#d6d6d6" stroke="#000" stroke-width="1.35"/>
<rect x="75.60" y="674.33" width="15.70" height="28.37" fill="#525252" stroke="#000" stroke-width="1.35"/>
<rect x="108.20" y="673.62" width="15.70" height="29.08" fill="#d6d6d6" stroke="#000" stroke-width="1.35"/>
<rect x="123.90" y="655.32" width="15.70" height="47.38" fill="#525252" stroke="#000" stroke-width="1.35"/>
<line x1="116.05" y1="669.65" x2="116.05" y2="677.59" stroke="#222" stroke-width="1.15" stroke-linecap="butt"/>
<line x1="113.95" y1="669.65" x2="118.15" y2="669.65" stroke="#222" stroke-width="1.265" stroke-linecap="butt"/>
<line x1="113.95" y1="677.59" x2="118.15" y2="677.59" stroke="#222" stroke-width="1.265" stroke-linecap="butt"/>
<line x1="131.75" y1="643.40" x2="131.75" y2="667.24" stroke="#222" stroke-width="1.15" stroke-linecap="butt"/>
<line x1="129.65" y1="643.40" x2="133.85" y2="643.40" stroke="#222" stroke-width="1.265" stroke-linecap="butt"/>
<line x1="129.65" y1="667.24" x2="133.85" y2="667.24" stroke="#222" stroke-width="1.265" stroke-linecap="butt"/>
<rect x="156.50" y="666.73" width="15.70" height="35.97" fill="#d6d6d6" stroke="#000" stroke-width="1.35"/>
<rect x="172.20" y="620.99" width="15.70" height="81.71" fill="#525252" stroke="#000" stroke-width="1.35"/>
<line x1="164.35" y1="664.46" x2="164.35" y2="668.99" stroke="#222" stroke-width="1.15" stroke-linecap="butt"/>
<line x1="162.25" y1="664.46" x2="166.45" y2="664.46" stroke="#222" stroke-width="1.265" stroke-linecap="butt"/>
<line x1="162.25" y1="668.99" x2="166.45" y2="668.99" stroke="#222" stroke-width="1.265" stroke-linecap="butt"/>
<line x1="180.05" y1="583.82" x2="180.05" y2="658.16" stroke="#222" stroke-width="1.15" stroke-linecap="butt"/>
<line x1="177.95" y1="583.82" x2="182.15" y2="583.82" stroke="#222" stroke-width="1.265" stroke-linecap="butt"/>
<line x1="177.95" y1="658.16" x2="182.15" y2="658.16" stroke="#222" stroke-width="1.265" stroke-linecap="butt"/>
<rect x="204.50" y="660.54" width="15.70" height="42.16" fill="#d6d6d6" stroke="#000" stroke-width="1.35"/>
<rect x="220.20" y="606.80" width="15.70" height="95.90" fill="#525252" stroke="#000" stroke-width="1.35"/>
<line x1="212.35" y1="654.87" x2="212.35" y2="666.21" stroke="#222" stroke-width="1.15" stroke-linecap="butt"/>
<line x1="210.25" y1="654.87" x2="214.45" y2="654.87" stroke="#222" stroke-width="1.265" stroke-linecap="butt"/>
<line x1="210.25" y1="666.21" x2="214.45" y2="666.21" stroke="#222" stroke-width="1.265" stroke-linecap="butt"/>
<line x1="228.05" y1="556.30" x2="228.05" y2="657.31" stroke="#222" stroke-width="1.15" stroke-linecap="butt"/>
<line x1="225.95" y1="556.30" x2="230.15" y2="556.30" stroke="#222" stroke-width="1.265" stroke-linecap="butt"/>
<line x1="225.95" y1="657.31" x2="230.15" y2="657.31" stroke="#222" stroke-width="1.265" stroke-linecap="butt"/>
<rect x="67.60" y="513.50" width="4.30" height="4.30" fill="#d6d6d6" stroke="#000" stroke-width="1.0"/>
<text x="74.20" y="519.10" font-size="8.7" text-anchor="start" font-weight="bold" fill="#000">1st CFC</text>
<rect x="67.60" y="527.30" width="4.30" height="4.30" fill="#525252" stroke="#000" stroke-width="1.0"/>
<text x="74.20" y="532.90" font-size="8.7" text-anchor="start" font-weight="bold" fill="#000">2nd CFC</text>
<text x="263.80" y="503.10" font-size="13" text-anchor="start" font-weight="bold" fill="#000">F</text>
<line x1="317.80" y1="507.10" x2="317.80" y2="702.60" stroke="#000" stroke-width="1.6" stroke-linecap="butt"/>
<line x1="314.30" y1="702.00" x2="317.80" y2="702.00" stroke="#000" stroke-width="1.6" stroke-linecap="butt"/>
<text x="300.50" y="705.00" font-size="9.9" text-anchor="middle" font-weight="bold" fill="#000">0</text>
<line x1="314.30" y1="637.40" x2="317.80" y2="637.40" stroke="#000" stroke-width="1.6" stroke-linecap="butt"/>
<text x="300.50" y="640.40" font-size="9.9" text-anchor="middle" font-weight="bold" fill="#000">0.5</text>
<line x1="314.30" y1="572.80" x2="317.80" y2="572.80" stroke="#000" stroke-width="1.6" stroke-linecap="butt"/>
<text x="300.50" y="575.80" font-size="9.9" text-anchor="middle" font-weight="bold" fill="#000">1</text>
<line x1="314.30" y1="508.20" x2="317.80" y2="508.20" stroke="#000" stroke-width="1.6" stroke-linecap="butt"/>
<text x="300.50" y="511.20" font-size="9.9" text-anchor="middle" font-weight="bold" fill="#000">1.5</text>
<line x1="314.80" y1="702.00" x2="516.80" y2="702.00" stroke="#000" stroke-width="1.6" stroke-linecap="butt"/>
<line x1="343.30" y1="702.00" x2="343.30" y2="704.50" stroke="#000" stroke-width="1.6" stroke-linecap="butt"/>
<text x="343.30" y="717.90" font-size="9.7" text-anchor="middle" font-weight="bold" fill="#000">0</text>
<line x1="393.30" y1="702.00" x2="393.30" y2="704.50" stroke="#000" stroke-width="1.6" stroke-linecap="butt"/>
<text x="393.30" y="717.90" font-size="9.7" text-anchor="middle" font-weight="bold" fill="#000">1</text>
<line x1="443.20" y1="702.00" x2="443.20" y2="704.50" stroke="#000" stroke-width="1.6" stroke-linecap="butt"/>
<text x="443.20" y="717.90" font-size="9.7" text-anchor="middle" font-weight="bold" fill="#000">10</text>
<line x1="493.10" y1="702.00" x2="493.10" y2="704.50" stroke="#000" stroke-width="1.6" stroke-linecap="butt"/>
<text x="493.10" y="717.90" font-size="9.7" text-anchor="middle" font-weight="bold" fill="#000">100</text>
<line x1="516.80" y1="702.00" x2="516.80" y2="704.50" stroke="#000" stroke-width="1.6" stroke-linecap="butt"/>
<text x="419.40" y="737.10" font-size="10.4" text-anchor="middle" font-weight="bold" fill="#000">GDF15 (ng/ml)</text>
<text transform="translate(276.90,602.90) rotate(-90)" font-size="10.5" text-anchor="middle" font-weight="bold" fill="#000">ALDH<tspan font-size="8.5" dy="-4.6">+</tspan><tspan dy="4.6"> cells (x10</tspan><tspan font-size="5.8" dy="-3.8">4</tspan><tspan dy="3.8">)</tspan></text>
<rect x="326.35" y="676.55" width="11.30" height="25.45" fill="#f3f3f3" stroke="#000" stroke-width="1.35"/>
<rect x="337.65" y="672.03" width="11.30" height="29.97" fill="#808080" stroke="#000" stroke-width="1.35"/>
<rect x="348.95" y="669.31" width="11.30" height="32.69" fill="#404040" stroke="#000" stroke-width="1.35"/>
<line x1="332.00" y1="670.73" x2="332.00" y2="682.36" stroke="#111" stroke-width="1.15" stroke-linecap="butt"/>
<line x1="329.90" y1="670.73" x2="334.10" y2="670.73" stroke="#111" stroke-width="1.265" stroke-linecap="butt"/>
<line x1="329.90" y1="682.36" x2="334.10" y2="682.36" stroke="#111" stroke-width="1.265" stroke-linecap="butt"/>
<line x1="343.30" y1="669.70" x2="343.30" y2="674.35" stroke="#111" stroke-width="1.15" stroke-linecap="butt"/>
<line x1="341.20" y1="669.70" x2="345.40" y2="669.70" stroke="#111" stroke-width="1.265" stroke-linecap="butt"/>
<line x1="341.20" y1="674.35" x2="345.40" y2="674.35" stroke="#111" stroke-width="1.265" stroke-linecap="butt"/>
<rect x="376.35" y="665.05" width="11.30" height="36.95" fill="#f3f3f3" stroke="#000" stroke-width="1.35"/>
<rect x="387.65" y="671.25" width="11.30" height="30.75" fill="#808080" stroke="#000" stroke-width="1.35"/>
<rect x="398.95" y="644.38" width="11.30" height="57.62" fill="#404040" stroke="#000" stroke-width="1.35"/>
<line x1="382.00" y1="649.54" x2="382.00" y2="680.55" stroke="#111" stroke-width="1.15" stroke-linecap="butt"/>
<line x1="379.90" y1="649.54" x2="384.10" y2="649.54" stroke="#111" stroke-width="1.265" stroke-linecap="butt"/>
<line x1="379.90" y1="680.55" x2="384.10" y2="680.55" stroke="#111" stroke-width="1.265" stroke-linecap="butt"/>
<line x1="393.30" y1="660.91" x2="393.30" y2="681.59" stroke="#111" stroke-width="1.15" stroke-linecap="butt"/>
<line x1="391.20" y1="660.91" x2="395.40" y2="660.91" stroke="#111" stroke-width="1.265" stroke-linecap="butt"/>
<line x1="391.20" y1="681.59" x2="395.40" y2="681.59" stroke="#111" stroke-width="1.265" stroke-linecap="butt"/>
<line x1="404.60" y1="638.95" x2="404.60" y2="649.80" stroke="#111" stroke-width="1.15" stroke-linecap="butt"/>
<line x1="402.50" y1="638.95" x2="406.70" y2="638.95" stroke="#111" stroke-width="1.265" stroke-linecap="butt"/>
<line x1="402.50" y1="649.80" x2="406.70" y2="649.80" stroke="#111" stroke-width="1.265" stroke-linecap="butt"/>
<rect x="426.25" y="633.65" width="11.30" height="68.35" fill="#f3f3f3" stroke="#000" stroke-width="1.35"/>
<rect x="437.55" y="647.74" width="11.30" height="54.26" fill="#808080" stroke="#000" stroke-width="1.35"/>
<rect x="448.85" y="610.40" width="11.30" height="91.60" fill="#404040" stroke="#000" stroke-width="1.35"/>
<line x1="431.90" y1="631.46" x2="431.90" y2="635.85" stroke="#111" stroke-width="1.15" stroke-linecap="butt"/>
<line x1="429.80" y1="631.46" x2="434.00" y2="631.46" stroke="#111" stroke-width="1.265" stroke-linecap="butt"/>
<line x1="429.80" y1="635.85" x2="434.00" y2="635.85" stroke="#111" stroke-width="1.265" stroke-linecap="butt"/>
<line x1="443.20" y1="639.73" x2="443.20" y2="655.75" stroke="#111" stroke-width="1.15" stroke-linecap="butt"/>
<line x1="441.10" y1="639.73" x2="445.30" y2="639.73" stroke="#111" stroke-width="1.265" stroke-linecap="butt"/>
<line x1="441.10" y1="655.75" x2="445.30" y2="655.75" stroke="#111" stroke-width="1.265" stroke-linecap="butt"/>
<line x1="454.50" y1="602.65" x2="454.50" y2="618.15" stroke="#111" stroke-width="1.15" stroke-linecap="butt"/>
<line x1="452.40" y1="602.65" x2="456.60" y2="602.65" stroke="#111" stroke-width="1.265" stroke-linecap="butt"/>
<line x1="452.40" y1="618.15" x2="456.60" y2="618.15" stroke="#111" stroke-width="1.265" stroke-linecap="butt"/>
<rect x="476.15" y="574.87" width="11.30" height="127.13" fill="#f3f3f3" stroke="#000" stroke-width="1.35"/>
<rect x="487.45" y="562.33" width="11.30" height="139.67" fill="#808080" stroke="#000" stroke-width="1.35"/>
<rect x="498.75" y="577.06" width="11.30" height="124.94" fill="#404040" stroke="#000" stroke-width="1.35"/>
<line x1="481.80" y1="567.76" x2="481.80" y2="581.97" stroke="#111" stroke-width="1.15" stroke-linecap="butt"/>
<line x1="479.70" y1="567.76" x2="483.90" y2="567.76" stroke="#111" stroke-width="1.265" stroke-linecap="butt"/>
<line x1="479.70" y1="581.97" x2="483.90" y2="581.97" stroke="#111" stroke-width="1.265" stroke-linecap="butt"/>
<line x1="493.10" y1="527.45" x2="493.10" y2="597.22" stroke="#111" stroke-width="1.15" stroke-linecap="butt"/>
<line x1="491.00" y1="527.45" x2="495.20" y2="527.45" stroke="#111" stroke-width="1.265" stroke-linecap="butt"/>
<line x1="491.00" y1="597.22" x2="495.20" y2="597.22" stroke="#111" stroke-width="1.265" stroke-linecap="butt"/>
<line x1="504.40" y1="549.93" x2="504.40" y2="604.20" stroke="#111" stroke-width="1.15" stroke-linecap="butt"/>
<line x1="502.30" y1="549.93" x2="506.50" y2="549.93" stroke="#111" stroke-width="1.265" stroke-linecap="butt"/>
<line x1="502.30" y1="604.20" x2="506.50" y2="604.20" stroke="#111" stroke-width="1.265" stroke-linecap="butt"/>
<polygon points="404.30,629.20 405.09,631.11 407.15,631.27 405.58,632.62 406.06,634.63 404.30,633.55 402.54,634.63 403.02,632.62 401.45,631.27 403.51,631.11" fill="#000"/>
<polygon points="432.30,621.10 433.09,623.01 435.15,623.17 433.58,624.52 434.06,626.53 432.30,625.45 430.54,626.53 431.02,624.52 429.45,623.17 431.51,623.01" fill="#000"/>
<polygon points="453.80,592.80 454.59,594.71 456.65,594.87 455.08,596.22 455.56,598.23 453.80,597.15 452.04,598.23 452.52,596.22 450.95,594.87 453.01,594.71" fill="#000"/>
<polygon points="481.90,553.70 482.69,555.61 484.75,555.77 483.18,557.12 483.66,559.13 481.90,558.05 480.14,559.13 480.62,557.12 479.05,555.77 481.11,555.61" fill="#000"/>
<polygon points="492.90,515.20 493.69,517.11 495.75,517.27 494.18,518.62 494.66,520.63 492.90,519.55 491.14,520.63 491.62,518.62 490.05,517.27 492.11,517.11" fill="#000"/>
<polygon points="505.20,539.10 505.99,541.01 508.05,541.17 506.48,542.52 506.96,544.53 505.20,543.45 503.44,544.53 503.92,542.52 502.35,541.17 504.41,541.01" fill="#000"/>
<rect x="336.40" y="521.10" width="3.80" height="3.80" fill="#f3f3f3" stroke="#111" stroke-width="1.4"/>
<text x="343.20" y="526.80" font-size="9.7" text-anchor="start" font-weight="bold" fill="#000">day 4</text>
<rect x="336.40" y="539.10" width="3.80" height="3.80" fill="#808080" stroke="#111" stroke-width="1.4"/>
<text x="343.20" y="544.80" font-size="9.7" text-anchor="start" font-weight="bold" fill="#000">day 7</text>
<rect x="336.40" y="557.10" width="3.80" height="3.80" fill="#404040" stroke="#111" stroke-width="1.4"/>
<text x="343.20" y="562.80" font-size="9.7" text-anchor="start" font-weight="bold" fill="#000">day 14</text>
</svg>
</body></html>
